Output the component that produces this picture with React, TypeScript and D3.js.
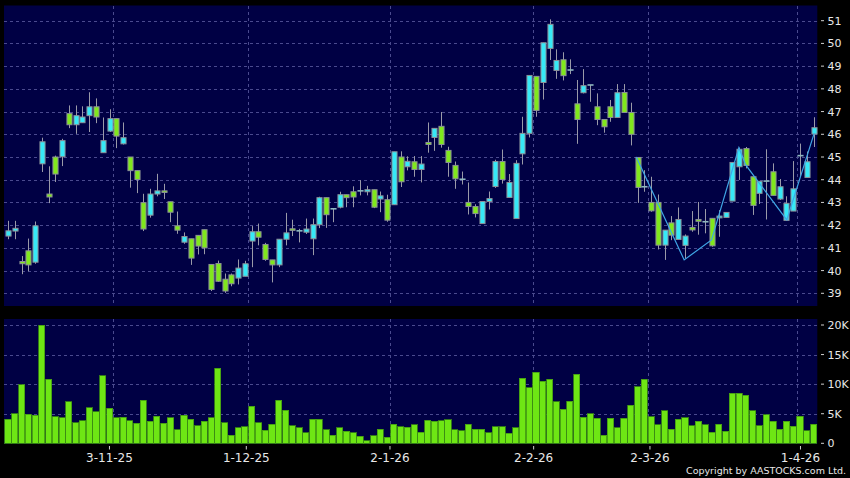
import React from 'react';
import * as d3 from 'd3';

// daily candles, oldest first (HKD)
const opens = [41.52,41.74,40.40,40.87,40.37,44.70,43.37,45.00,45.01,46.91,46.42,46.51,46.82,47.21,45.19,46.14,46.69,45.58,45.00,44.40,
  42.99,42.44,43.37,43.51,43.03,41.97,41.25,41.40,41.55,41.80,40.27,40.31,39.62,39.81,39.67,39.75,41.30,41.71,41.15,40.47,
  40.25,41.38,41.84,41.75,41.69,41.40,42.02,43.21,42.72,42.79,43.34,43.47,43.51,43.47,43.56,43.15,43.12,42.90,45.00,44.57,
  44.79,44.45,45.64,45.86,46.35,45.29,44.63,44.02,43.00,42.82,42.07,43.04,43.70,44.80,43.22,42.29,45.14,46.04,48.55,48.28,
  49.78,48.81,49.28,48.83,47.34,47.83,48.17,47.21,46.65,47.21,46.74,47.84,46.96,44.98,43.66,43.00,43.00,41.12,42.10,41.37,
  41.11,41.90,42.25,42.15,42.30,42.32,42.34,43.06,44.57,45.37,44.13,43.40,43.94,44.35,43.15,42.21,42.62,45.06,44.10,46.01];
const highs = [42.19,42.19,40.64,41.41,42.16,45.85,44.59,45.06,45.80,47.27,47.27,47.23,47.85,47.58,46.74,47.10,46.70,46.52,45.00,44.40,
  43.38,43.60,44.26,43.82,43.03,42.60,41.68,41.40,41.55,41.80,40.27,40.44,39.87,39.87,40.49,40.43,41.96,42.07,41.22,40.47,
  41.38,42.54,42.24,41.84,42.29,42.29,43.25,43.21,42.72,43.47,43.34,43.71,43.98,43.73,43.56,43.48,43.34,45.23,45.25,45.03,
  45.04,45.04,46.52,46.26,46.98,45.45,44.80,44.36,43.88,42.92,43.04,43.48,44.88,45.33,44.25,44.86,46.77,48.59,48.55,50.03,
  51.06,49.74,49.61,49.30,48.39,48.87,48.17,47.80,46.65,47.51,48.21,48.21,47.39,44.98,44.42,44.13,43.35,41.78,42.40,42.78,
  41.59,42.62,43.02,42.71,42.30,42.66,42.56,44.76,45.41,45.44,44.13,43.93,45.34,44.72,44.03,43.27,44.82,45.59,45.24,46.75];
const lows = [41.38,41.38,39.84,39.97,40.30,44.34,42.97,43.90,44.60,46.27,46.02,46.50,46.10,46.49,45.19,46.10,45.39,45.55,43.65,43.41,
  41.74,42.33,43.27,43.15,42.13,41.62,41.18,40.25,40.71,40.72,39.10,39.50,39.02,39.31,39.39,39.75,40.15,41.11,40.43,39.48,
  40.15,41.11,41.52,41.24,41.61,40.68,41.87,41.88,42.13,42.74,42.79,42.79,43.31,43.31,42.75,42.57,42.15,42.90,43.68,44.41,
  44.13,43.88,45.19,45.27,45.41,44.13,43.60,43.79,42.47,42.34,42.07,42.69,43.64,43.83,43.20,42.29,44.67,45.86,46.77,47.53,
  49.27,48.44,48.37,48.65,45.58,47.80,47.43,46.40,46.07,46.55,46.74,46.95,45.51,42.98,43.47,42.59,40.93,40.47,41.34,41.37,
  40.53,41.71,41.58,41.64,41.05,41.49,42.34,43.06,43.99,44.50,42.45,42.93,42.25,43.31,43.11,42.21,42.62,44.13,44.10,45.44];
const closes = [41.75,41.86,40.30,40.25,41.97,45.67,43.24,44.25,45.72,46.42,46.82,46.76,47.21,46.76,45.72,46.69,45.92,45.85,44.40,44.01,
  41.83,43.37,43.51,43.44,42.57,41.78,41.50,40.55,41.08,41.00,39.17,39.53,39.10,39.42,40.11,40.30,41.71,41.47,40.49,40.25,
  41.38,41.66,41.77,41.75,41.83,42.02,43.21,42.46,42.72,43.34,43.21,43.24,43.51,43.56,42.79,43.29,42.22,45.23,43.91,44.81,
  44.45,44.69,45.55,46.26,45.55,44.76,44.04,44.02,42.82,42.51,43.04,43.17,44.80,44.01,43.88,44.72,46.04,48.59,47.05,50.03,
  50.84,49.25,48.58,48.83,46.65,48.14,48.17,46.65,46.33,46.74,47.83,46.96,46.00,43.66,43.72,42.63,41.12,41.78,41.56,42.25,
  41.52,41.79,42.17,42.15,41.09,42.40,42.56,44.76,45.34,44.63,42.87,43.93,43.94,43.31,43.69,42.96,43.60,45.06,44.79,46.29];
// volume in thousands of shares
const volumes = [4.1,5.0,9.9,4.9,4.7,20.0,10.8,4.45,4.3,7.0,3.5,3.8,6.0,5.3,11.4,5.9,4.3,4.4,3.8,3.4,
  7.3,3.7,4.6,3.4,4.3,2.25,4.7,4.1,3.0,3.7,4.3,12.7,3.5,1.4,2.6,2.8,6.3,3.5,2.2,3.2,
  7.3,5.6,3.0,2.6,1.75,4.1,4.1,2.3,1.4,2.6,2.0,1.75,1.2,0.4,1.3,2.4,1.0,3.2,2.8,2.7,
  3.1,1.9,3.9,3.7,3.8,4.0,2.25,2.1,3.2,2.4,2.4,1.8,2.8,2.8,1.7,2.6,11.0,9.35,12.0,10.5,
  10.8,7.0,5.75,7.15,11.7,4.4,5.0,4.2,1.4,4.2,2.6,4.2,6.4,9.6,10.8,4.45,3.1,5.5,2.4,4.1,
  4.3,3.0,3.7,3.15,1.9,3.2,2.0,8.5,8.5,8.1,5.5,3.0,4.85,3.7,2.4,3.7,2.9,4.55,2.1,3.2];

// first trading day of each month shown, and its label
const monthStarts = [16, 36, 57, 78, 95, 117];
const monthLabels = ['3-11-25', '1-12-25', '2-1-26', '2-2-26', '2-3-26', '1-4-26'];

const priceTicks = [39, 40, 41, 42, 43, 44, 45, 46, 47, 48, 49, 50, 51];
const volTicks = [0, 5, 10, 15, 20];
const volTickLabels = ['0', '5K', '10K', '15K', '20K'];

// zigzag overlay (bar index, price)
const zigIdx = [93, 100, 104, 108, 109, 115, 119];
const zigVal = [45.0, 40.47, 41.35, 45.41, 44.65, 42.23, 46.04];

const W = 850, H = 478;
const panelL = 4, panelR = 817.3;
const priceTop = 5.5, priceBot = 306;
const volTop = 319, volBot = 444;

const upFill = '#36e9f7';
const downFill = '#80e81c';
const edge = '#8c9098';
const gridCol = '#4a4a8e';
const navy = '#000044';
const font = "'DejaVu Sans', Verdana, sans-serif";

export default function App() {
  const n = closes.length;
  const x = d3.scaleBand<number>().domain(d3.range(n)).range([panelL + 0.3, panelR]).padding(0.1);
  const bw = x.bandwidth();
  const xc = (i: number) => (x(i) as number) + bw / 2;
  const axisX = d3.scaleLinear().domain([0, n]).range([0, 821]);

  const y = d3.scaleLinear().domain([39, 51]).range([293.3, 20.7]);
  const yv = d3.scaleLinear().domain([0, 20]).range([443.3, 325]);

  const zig = d3.line<number>()
    .x((_, k) => axisX(zigIdx[k]))
    .y(d => y(d));

  const gridX = monthStarts.map(i => Math.round(xc(i) - x.step() / 2) + 0.5);

  return (
    <svg width={W} height={H} style={{ position: 'absolute', left: 0, top: 0, display: 'block' }}
      fontFamily={font}>
      <rect width={W} height={H} fill="#000" />
      <rect x={panelL} y={priceTop} width={panelR - panelL} height={priceBot - priceTop} fill={navy} />
      <rect x={panelL} y={volTop} width={panelR - panelL} height={volBot - volTop} fill={navy} />

      {/* grid */}
      <g stroke={gridCol} strokeWidth={1} strokeDasharray="3,3" shapeRendering="crispEdges">
        {priceTicks.map(p => (
          <line key={'p' + p} x1={panelL} x2={panelR} y1={Math.round(y(p)) + 0.5} y2={Math.round(y(p)) + 0.5} />
        ))}
        {volTicks.slice(1).map(v => (
          <line key={'v' + v} x1={panelL} x2={panelR} y1={Math.round(yv(v)) + 0.5} y2={Math.round(yv(v)) + 0.5} />
        ))}
        {gridX.map((gx, k) => (
          <g key={'g' + k}>
            <line x1={gx} x2={gx} y1={priceTop} y2={priceBot} />
            <line x1={gx} x2={gx} y1={volTop} y2={volBot} />
          </g>
        ))}
      </g>

      {/* candles */}
      <g>
        {closes.map((c, i) => {
          const o = opens[i];
          const cx = Math.round(xc(i)) + 0.5;
          const top = y(Math.max(o, c));
          const bot = y(Math.min(o, c));
          const flat = bot - top < 1.5;
          return (
            <g key={i}>
              <line x1={cx} x2={cx} y1={y(highs[i])} y2={y(lows[i])} stroke="#9a9aa8" strokeWidth={1} />
              {flat ? (
                <line x1={cx - bw / 2} x2={cx + bw / 2} y1={(top + bot) / 2} y2={(top + bot) / 2}
                  stroke={c >= o ? '#8fb8c0' : '#9ab87a'} strokeWidth={1.6} />
              ) : (
                <rect x={cx - bw / 2 + 0.5} y={top} width={bw - 1} height={bot - top}
                  fill={c >= o ? upFill : downFill} stroke={edge} strokeWidth={1} />
              )}
            </g>
          );
        })}
      </g>

      <path d={zig(zigVal) || ''} fill="none" stroke="#3fa6e6" strokeWidth={1.2} />

      {/* volume */}
      <g shapeRendering="crispEdges">
        {volumes.map((v, i) => (
          <rect key={i} x={(x(i) as number)} y={yv(v)} width={bw} height={yv(0) - yv(v)}
            fill="#6ee614" stroke="#3f9412" strokeWidth={0.8} />
        ))}
      </g>

      {/* right axes */}
      <g fill="#e8e8e8" fontSize={11}>
        {priceTicks.map(p => (
          <g key={'pt' + p}>
            <line x1={821} x2={824} y1={y(p)} y2={y(p)} stroke="#cfcfcf" />
            <text x={827.5} y={y(p)} dy="0.36em">{p}</text>
          </g>
        ))}
        {volTicks.map((v, k) => (
          <g key={'vt' + v}>
            <line x1={821} x2={824} y1={yv(v)} y2={yv(v)} stroke="#cfcfcf" />
            <text x={827.5} y={yv(v)} dy="0.36em">{volTickLabels[k]}</text>
          </g>
        ))}
      </g>

      {/* date axis */}
      <g fill="#e8e8e8" fontSize={12} textAnchor="middle">
        {monthStarts.map((i, k) => (
          <g key={'d' + k}>
            <line x1={axisX(i)} x2={axisX(i)} y1={446} y2={449.5} stroke="#cfcfcf" />
            <text x={axisX(i)} y={461.5}>{monthLabels[k]}</text>
          </g>
        ))}
      </g>

      <text x={846} y={474} fill="#e8e8e8" fontSize={9.5} textAnchor="end">Copyright by AASTOCKS.com Ltd.</text>
    </svg>
  );
}
